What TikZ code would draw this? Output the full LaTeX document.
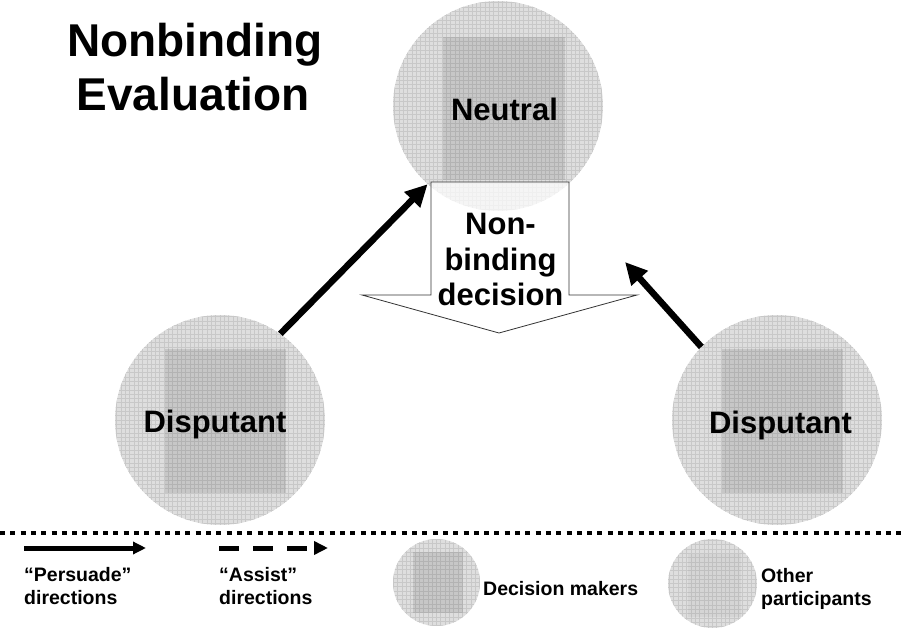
\documentclass[tikz,border=0pt]{standalone}
\usepackage{fontspec}
\setmainfont{Liberation Sans}
\usetikzlibrary{arrows.meta}
\definecolor{circfill}{HTML}{DEDEDE}
\definecolor{gridcol}{HTML}{C8C8C8}
\tikzset{
  gridded/.style={path picture={\draw[gridcol,line width=0.7pt] (path picture bounding box.south west) grid[step=4.3pt] (path picture bounding box.north east);}},
  disc/.style={circle,inner sep=0pt,fill=circfill,gridded},
  dmbox/.style={rectangle,inner sep=0pt,fill=black,fill opacity=0.10},
  opbox/.style={rectangle,inner sep=0pt,fill=black,fill opacity=0.04},
  bigtxt/.style={font=\bfseries\fontsize{31}{36}\selectfont,anchor=base,inner sep=0pt},
  midtxt/.style={font=\bfseries\fontsize{31}{36}\selectfont,anchor=base,inner sep=0pt},
  titletxt/.style={font=\bfseries\fontsize{46}{55}\selectfont,anchor=base,inner sep=0pt},
  legtxt/.style={font=\bfseries\fontsize{19.5}{23}\selectfont,anchor=base west,inner sep=0pt},
  persuade/.style={line width=6.5pt,-{Triangle[length=22pt,width=21pt]}},
  legsolid/.style={line width=5pt,-{Triangle[length=13pt,width=12pt]}},
  legdash/.style={line width=5pt,dash pattern=on 20pt off 14pt,-{Triangle[length=14pt,width=13pt]}},
  blockarrow/.style={draw=black!80,line width=0.8pt,fill=white,fill opacity=0.72},
  sepline/.style={line width=4.5pt,dash pattern=on 5pt off 5.3pt}
}
\begin{document}
\begin{tikzpicture}[x=1pt,y=-1pt]
\useasboundingbox (0,0) rectangle (905,628);
% main circles
\node[disc,minimum size=210pt] (neutral) at (498,106) {};
\node[dmbox,minimum width=122pt,minimum height=143pt] (neutralbox) at (504,108.5) {};
\node[disc,minimum size=210pt] (ldisp) at (220,420) {};
\node[dmbox,minimum width=121pt,minimum height=144pt] (ldispbox) at (225.5,421) {};
\node[disc,minimum size=210pt] (rdisp) at (777,420) {};
\node[dmbox,minimum width=121pt,minimum height=144pt] (rdispbox) at (782.5,421) {};
% block arrow
\draw[blockarrow] (431,182) -- (569,182) -- (569,295) -- (637,295) -- (499,333) -- (362,295) -- (431,295) -- cycle;
% texts
\node[titletxt] (title1) at (195,57) {Nonbinding};
\node[titletxt] (title2) at (193,111) {Evaluation};
\node[bigtxt] (neutraltxt) at (504.5,121) {Neutral};
\node[bigtxt] (ldisptxt) at (215,432) {Disputant};
\node[bigtxt] (rdisptxt) at (780.5,433) {Disputant};
\node[midtxt] (nb1) at (500.5,235) {Non-};
\node[midtxt] (nb2) at (500.5,270.5) {binding};
\node[midtxt] (nb3) at (500.5,306) {decision};
% persuade arrows
\coordinate (rtip) at (625,262);
\draw[persuade] (ldisp.55) -- (neutral.228);
\draw[persuade] (rdisp.136) -- (rtip);
% separator
\coordinate (sepl) at (0,533);
\coordinate (sepr) at (905,533);
\draw[sepline] (sepl) -- (sepr);
% legend
\coordinate (ls1) at (24,548);
\coordinate (ls2) at (146,548);
\draw[legsolid] (ls1) -- (ls2);
\coordinate (ld1) at (219,548);
\coordinate (ld2) at (328,548);
\draw[legdash] (ld1) -- (ld2);
\node[legtxt] (pers1) at (24,581) {“Persuade”};
\node[legtxt] (pers2) at (24,604) {directions};
\node[legtxt] (ass1) at (219,581) {“Assist”};
\node[legtxt] (ass2) at (219,604) {directions};
\node[disc,minimum size=87pt] (dmdisc) at (436.5,582.5) {};
\node[dmbox,minimum width=50pt,minimum height=61pt] (dmrect) at (438,582.5) {};
\node[legtxt] (dmtxt) at (483,595) {Decision makers};
\node[disc,minimum size=89pt] (opdisc) at (712.5,583.5) {};
\node[opbox,minimum width=53pt,minimum height=63pt] (oprect) at (714.5,585.5) {};
\node[legtxt] (op1) at (761,582) {Other};
\node[legtxt] (op2) at (761,605) {participants};
\end{tikzpicture}
\end{document}
